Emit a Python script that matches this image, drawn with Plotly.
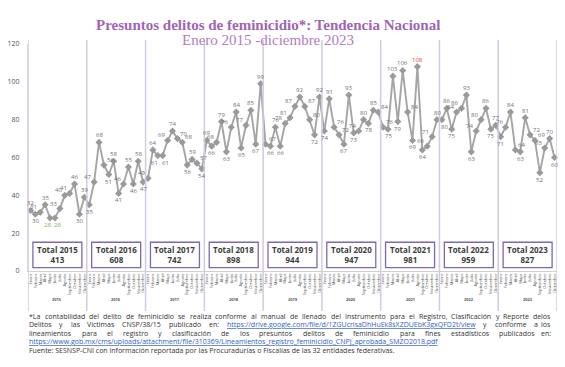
import plotly.graph_objects as go

# ---------------- data ----------------
years = [2015, 2016, 2017, 2018, 2019, 2020, 2021, 2022, 2023]
months = ["Enero", "Febrero", "Marzo", "Abril", "Mayo", "Junio", "Julio",
          "Agosto", "Septiembre", "Octubre", "Noviembre", "Diciembre"]
v2015 = [32, 30, 31, 35, 28, 28, 33, 40, 41, 46, 30, 39]
v2016 = [35, 47, 68, 56, 51, 58, 41, 46, 55, 46, 58, 47]
v2017 = [49, 64, 61, 61, 69, 74, 70, 68, 56, 59, 57, 54]
v2018 = [69, 66, 68, 79, 63, 76, 84, 65, 77, 85, 67, 99]
v2019 = [67, 66, 76, 66, 78, 81, 87, 92, 87, 80, 72, 92]
v2020 = [74, 91, 76, 72, 67, 93, 73, 74, 80, 78, 85, 84]
v2021 = [76, 75, 103, 79, 106, 84, 69, 108, 64, 66, 71, 80]
v2022 = [80, 86, 75, 84, 86, 93, 63, 74, 80, 86, 75, 77]
v2023 = [71, 76, 84, 64, 63, 81, 72, 69, 52, 65, 70, 60]
totals = [413, 608, 742, 898, 944, 947, 981, 959, 827]
y_ticks = [0, 20, 40, 60, 80, 100, 120]

values = v2015 + v2016 + v2017 + v2018 + v2019 + v2020 + v2021 + v2022 + v2023
n = len(values)
xs = list(range(n))

# ---------------- geometry helpers ----------------
W, H = 565, 367
L, R, T, B = 28, 8, 44, 96
PW, PH = W - L - R, H - T - B


def px(xp):
    return (xp - L) / PW


def py(yp):
    return (H - B - yp) / PH


fig = go.Figure()
fig.add_trace(go.Scatter(
    x=xs, y=values, mode="lines+markers",
    line=dict(color="#a5a5a5", width=1.9),
    marker=dict(symbol="diamond", size=5.5, color="#9a9a9a"),
    hoverinfo="skip", cliponaxis=False, showlegend=False,
))

shapes = []
annotations = []

# point labels
vmin, vmax = min(values), max(values)
for i, v in enumerate(values):
    prev = values[i - 1] if i > 0 else v
    nxt = values[i + 1] if i < n - 1 else v
    col = "#7cb342" if v == vmin else ("#e53935" if v == vmax else "#707070")
    if v >= prev and v >= nxt:
        xa, xsft, ysft = "center", 0, 7
    elif v <= prev and v <= nxt:
        xa, xsft, ysft = "center", 0, -7
    elif prev < v < nxt:
        xa, xsft, ysft = "right", -1, 5
    else:
        xa, xsft, ysft = "left", 1, 5
    if ysft == -7 and i > 0 and v == prev:
        xsft = 3
    if ysft == -7 and i < n - 1 and v == nxt:
        xsft = -3
    annotations.append(dict(x=i, y=v, xref="x", yref="y", text=str(v), showarrow=False,
                            xanchor=xa, yanchor="middle", xshift=xsft, yshift=ysft,
                            font=dict(size=6, color=col, family="Open Sans")))

# year separators
for i in range(len(years) + 1):
    shapes.append(dict(type="line", xref="x", yref="paper",
                       x0=12 * i - 0.5, x1=12 * i - 0.5, y0=py(311), y1=py(40),
                       line=dict(color="#cfcbe0", width=1.5)))

# total boxes
for i, (yr, tot) in enumerate(zip(years, totals)):
    c = 12 * i + 5.5
    shapes.append(dict(type="rect", xref="x", yref="y",
                       x0=c - 5.0, x1=c + 5.0, y0=1.8, y1=15.2,
                       line=dict(color="#7d68b0", width=1.3), fillcolor="white"))
    annotations.append(dict(x=c, y=8.5, xref="x", yref="y", showarrow=False,
                            text=f"<b>Total {yr}<br>{tot}</b>",
                            font=dict(size=8, color="#3d3d3d", family="Open Sans"),
                            align="center"))
    annotations.append(dict(x=c, y=py(304), xref="x", yref="paper", showarrow=False,
                            text=f"<b>{yr}</b>",
                            font=dict(size=4, color="#555", family="Open Sans")))

# titles
annotations.append(dict(x=px(268), y=py(15), xref="paper", yref="paper", showarrow=False,
                        text="<b>Presuntos delitos de feminicidio*: Tendencia Nacional</b>",
                        font=dict(size=15, color="#a064b4", family="Liberation Serif")))
annotations.append(dict(x=px(268), y=py(30), xref="paper", yref="paper", showarrow=False,
                        text="Enero 2015 -diciembre 2023",
                        font=dict(size=15, color="#b07cc2", family="Liberation Serif")))

# ---------------- footnote ----------------
CW = {'a': 556, 'b': 613, 'c': 476, 'd': 613, 'e': 561, 'f': 336, 'g': 546, 'h': 615,
      'i': 258, 'j': 258, 'k': 529, 'l': 258, 'm': 935, 'n': 615, 'o': 601, 'p': 613,
      'q': 613, 'r': 408, 's': 477, 't': 353, 'u': 615, 'v': 499, 'w': 774, 'x': 518,
      'y': 501, 'z': 463, 'A': 633, 'B': 647, 'C': 631, 'D': 729, 'E': 556, 'F': 516,
      'G': 728, 'H': 738, 'I': 279, 'J': 267, 'K': 614, 'L': 519, 'M': 903, 'N': 754,
      'O': 779, 'P': 602, 'Q': 779, 'R': 618, 'S': 549, 'T': 553, 'U': 729, 'V': 582,
      'W': 899, 'X': 577, 'Y': 556, 'Z': 556, ' ': 260, '.': 266, ',': 245, ':': 266,
      '/': 371, '_': 421, '-': 322, '*': 550, 'í': 258, 'ó': 601, 'á': 556, 'é': 561}
FS = 7


def tw(s):
    return sum(CW.get(ch, 572) for ch in s) / 1000 * FS


LINK = "color:#2f62c0;text-decoration:underline"
link1 = "https://drive.google.com/file/d/1ZGUcrisaDhHuEk8sXZDUEbK3gxQFD2t/view"
link2 = ("https://www.gob.mx/cms/uploads/attachment/file/310369/"
         "Lineamientos_registro_feminicidio_CNPJ_aprobada_SMZO2018.pdf")
foot = [
    ("*La contabilidad del delito de feminicidio se realiza conforme al manual de llenado del "
     "Instrumento para el Registro, Clasificación y Reporte de los", 323, True),
    ("Delitos y las Víctimas CNSP/38/15 publicado en: " + link1 + " y conforme a los", 331, True),
    ("lineamientos para el registro y clasificación de los presuntos delitos de feminicidio "
     "para fines estadísticos publicados en:", 339.5, True),
    (link2, 348, False),
    ("Fuente: SESNSP-CNI con información reportada por las Procuradurías o Fiscalías de las "
     "32 entidades federativas.", 356.5, False),
]
X0, X1 = 27, 553
for line, yp, just in foot:
    words = line.split(" ")
    if just:
        widths = [tw(w) for w in words]
        gap = (X1 - X0 - sum(widths)) / (len(words) - 1)
        cur = X0
        for k, (w, wd) in enumerate(zip(words, widths)):
            txt = f"<span style='{LINK}'>{w}</span>" if w.startswith("http") else w
            last = k == len(words) - 1
            annotations.append(dict(x=px(X1 if last else cur), y=py(yp), xref="paper",
                                    yref="paper", xanchor="right" if last else "left",
                                    showarrow=False, text=txt,
                                    font=dict(size=FS, color="#333", family="Open Sans")))
            cur += wd + gap
    else:
        txt = f"<span style='{LINK}'>{line}</span>" if line.startswith("http") else line
        annotations.append(dict(x=px(X0), y=py(yp), xref="paper", yref="paper",
                                xanchor="left", showarrow=False, text=txt,
                                font=dict(size=FS, color="#333", family="Open Sans")))

fig.update_layout(
    width=W, height=H,
    margin=dict(l=L, r=R, t=T, b=B, autoexpand=False),
    paper_bgcolor="white", plot_bgcolor="white",
    shapes=shapes, annotations=annotations,
    xaxis=dict(range=[-0.5, n - 0.5], tickmode="array", tickvals=xs,
               ticktext=months * len(years), tickangle=-90, automargin=False,
               tickfont=dict(size=4, color="#555", family="Open Sans"),
               showgrid=False, zeroline=False, showline=True, linecolor="#d0d0d0",
               linewidth=1, ticks="", fixedrange=True),
    yaxis=dict(range=[0, 120], tickmode="array", tickvals=y_ticks, automargin=False,
               tickfont=dict(size=7, color="#555", family="Open Sans"),
               showgrid=False, zeroline=False, showline=True, linecolor="#d6d6e2",
               linewidth=1, ticks="", ticklabelstandoff=6, fixedrange=True),
)

fig.write_html("out.html", config={"displayModeBar": False},
               post_script="document.body.style.margin='0';document.body.style.padding='0';")
